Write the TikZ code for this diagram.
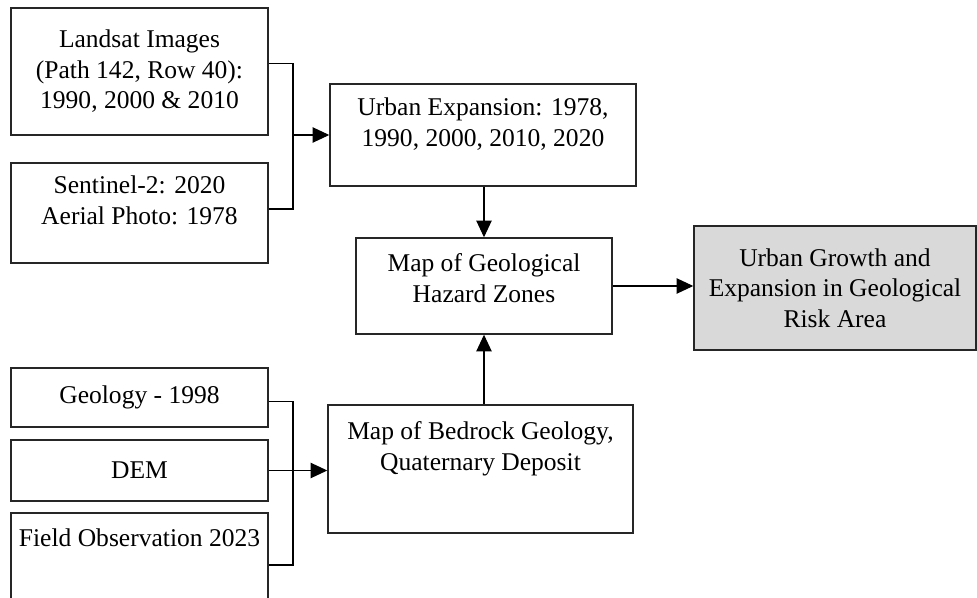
\documentclass[tikz,border=0pt]{standalone}
\usepackage{fontspec}
\setmainfont{Liberation Serif}
\usetikzlibrary{arrows.meta}

\begin{document}
\begin{tikzpicture}[x=0.03cm,y=-0.03cm,>={Triangle[width=4.6mm,length=5mm]},line width=1pt]
\tikzstyle{every node}=[font=\fontsize{21.8}{26}\selectfont,align=center]
\tikzstyle{box}=[draw=black!85,line width=1.2pt,minimum width=7.71cm]
\useasboundingbox (0,0) rectangle (977,598);

\node[box,minimum height=3.81cm] (land) at (139.5,71.5) {Landsat Images\\(Path 142, Row 40):\\1990, 2000 \& 2010};
\node[box,minimum height=3cm,text depth=22pt] (sent) at (139.5,213) {Sentinel-2: 2020\\Aerial Photo: 1978};
\node[box,minimum width=9.18cm,minimum height=3.06cm,text depth=22pt] (urban) at (483,135) {Urban Expansion: 1978,\\1990, 2000, 2010, 2020};
\node[box,minimum width=7.68cm,minimum height=2.88cm,text depth=13.5pt] (hazard) at (484,286) {Map of Geological\\Hazard Zones};
\node[box,fill=black!15,minimum width=8.46cm,minimum height=3.72cm] (growth) at (835,288) {Urban Growth and\\Expansion in Geological\\Risk Area};
\node[box,minimum width=9.15cm,minimum height=3.84cm,text depth=39pt] (bedrock) at (480.5,469) {Map of Bedrock Geology,\\Quaternary Deposit};
\node[box,minimum height=1.77cm] (geol) at (139.5,397.5) {Geology - 1998};
\node[box,minimum height=1.83cm] (dem) at (139.5,470.5) {DEM};
\node[box,minimum height=3.36cm,text depth=54pt] (field) at (139.5,569) {Field Observation 2023};

\coordinate (jt) at (293,135);
\coordinate (jb) at (293,470);

% satellite data
\draw ([yshift=0.25cm]land.east) -| (jt) |- ([yshift=0.12cm]sent.east);
\draw[->] (jt) -- (urban.west);
\draw[->] (urban.south -| hazard) -- (hazard.north);
\draw[->] (hazard.east) -- (hazard.east -| growth.west);

% geology data
\draw ([yshift=-0.13cm]geol.east) -| (jb) |- ([yshift=0.12cm]field.east);
\draw[->] (dem.east) -- (dem.east -| bedrock.west);
\draw[->] (bedrock.north -| hazard) -- (hazard.south);

\end{tikzpicture}
\end{document}
